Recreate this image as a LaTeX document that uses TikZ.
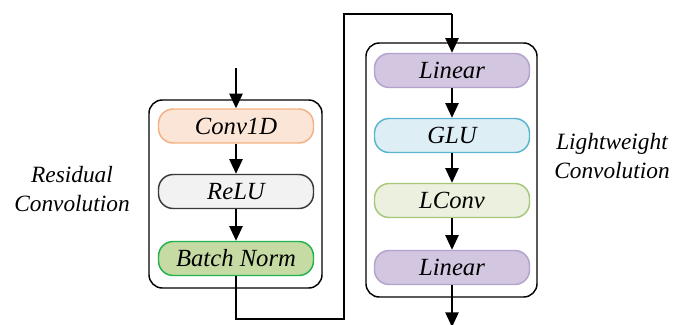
\documentclass[tikz,border=0pt]{standalone}
\usepackage{fontspec}
\setmainfont{Liberation Serif}
\usetikzlibrary{arrows.meta}
\definecolor{convF}{HTML}{FBE5D6}\definecolor{convD}{HTML}{F4B183}
\definecolor{reluF}{HTML}{F2F2F2}\definecolor{reluD}{HTML}{3A3A3A}
\definecolor{bnF}{HTML}{C5DBA3}\definecolor{bnD}{HTML}{22B24C}
\definecolor{linF}{HTML}{D3C6E0}\definecolor{linD}{HTML}{B2A3CC}
\definecolor{gluF}{HTML}{DDEEF5}\definecolor{gluD}{HTML}{5BB5D0}
\definecolor{lcF}{HTML}{EBF1DE}\definecolor{lcD}{HTML}{A6C77A}
\tikzset{
  blk/.style={draw, line width=1.1pt, rounded corners=11pt, minimum width=155*0.75pt, minimum height=34*0.75pt, inner sep=0pt, font=\fontsize{18.5}{20}\selectfont\itshape},
  outer/.style={draw=black, line width=1.1pt, rounded corners=10pt},
  lab/.style={align=center, font=\fontsize{17.5}{21.5}\selectfont\itshape},
  arr/.style={line width=1.1pt, -{Triangle[length=11pt,width=10pt]}},
  ln/.style={line width=1.1pt}
}
\begin{document}
\begin{tikzpicture}[x=0.75pt,y=-0.75pt]
\useasboundingbox (0,0) rectangle (675,325);
% left group
\draw[outer] (149,100) rectangle (322,288);
\node[blk, draw=convD, fill=convF] (conv) at (236,126) {Conv1D};
\node[blk, draw=reluD, fill=reluF] (relu) at (236,191.5) {ReLU};
\node[blk, draw=bnD, fill=bnF] (bn) at (236,258.5) {Batch Norm};
\coordinate (in) at (236,68);
\draw[arr] (in) -- (conv);
\draw[arr] (conv) -- (relu);
\draw[arr] (relu) -- (bn);
\node[lab] (rl) at (72,189) {Residual\\Convolution};
% right group
\draw[outer] (366,43) rectangle (537,297);
\node[blk, draw=linD, fill=linF] (lin1) at (452,70.5) {Linear};
\node[blk, draw=gluD, fill=gluF] (glu) at (452,135.5) {GLU};
\node[blk, draw=lcD, fill=lcF] (lc) at (452,200.5) {LConv};
\node[blk, draw=linD, fill=linF] (lin2) at (452,267.5) {Linear};
\draw[arr] (lin1) -- (glu);
\draw[arr] (glu) -- (lc);
\draw[arr] (lc) -- (lin2);
\coordinate (out) at (452,327);
\draw[arr] (lin2) -- (out);
\node[lab] (ll) at (612,156) {Lightweight\\Convolution};
% connector
\coordinate (c1) at (236,319);
\coordinate (c2) at (344,319);
\coordinate (c3) at (344,14);
\coordinate (c4) at (452,14);
\draw[ln] (bn.south) -- (c1) -- (c2) -- (c3) -- (c4);
\draw[arr] (c4) -- (lin1.north);
\end{tikzpicture}
\end{document}
